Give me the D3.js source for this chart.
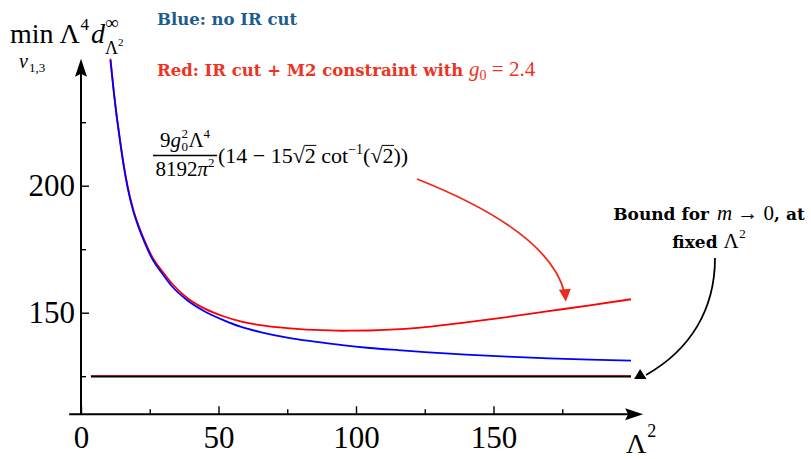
<!DOCTYPE html>
<html>
<head>
<meta charset="utf-8">
<script src="https://cdn.jsdelivr.net/npm/d3@7"></script>
<style>
  body { margin: 0; background: #fff; }
  svg { display: block; }
</style>
</head>
<body>
<div id="chart"></div>
<script>
// Values
var lambda2 = [10.7, 12, 13, 14, 15.5, 17, 19, 21, 23, 26, 29.5, 33, 38.5, 45, 52, 58, 66, 75, 85, 95, 105, 116, 125, 140, 155, 170, 185, 200];
var blueNoIR = [249.5, 236, 227, 219, 208, 199, 190, 183.5, 178, 171, 165.5, 160.5, 155, 150.5, 147, 144.5, 142.2, 140.2, 138.6, 137.2, 136.1, 135.2, 134.5, 133.5, 132.7, 132, 131.5, 131.1];
var redIRM2 = [250, 236.5, 227.5, 219.5, 208.5, 199.5, 190.6, 184.1, 178.7, 171.8, 166.4, 161.6, 155.9, 151.6, 148.5, 146.6, 145, 143.9, 143.2, 142.9, 143, 143.5, 144.3, 146.2, 148.3, 150.6, 152.9, 155.3];
var boundRange = [3.6, 200];
var boundValue = 125;

var xTicks = [0, 50, 100, 150];
var xMinorTicks = [25, 75, 125, 175];
var yTicks = [150, 200];
var yMinorTicks = [125, 175, 225];

var width = 811, height = 459;
var serif = "'Liberation Serif', 'Times New Roman', serif";
var slab = "'DejaVu Serif', serif";

var svg = d3.select("#chart").append("svg")
    .attr("width", width)
    .attr("height", height);

var x = d3.scaleLinear().domain([0, 200]).range([81, 631]);
var y = d3.scaleLinear().domain([110, 250]).range([414.3, 58.7]);

// Axes (ticks point inward like Mathematica)
var xAxis = d3.axisBottom(x).tickValues(xTicks).tickSize(-8).tickPadding(12);
var xMinor = d3.axisBottom(x).tickValues(xMinorTicks).tickSize(-5).tickFormat("");
var yAxis = d3.axisLeft(y).tickValues(yTicks).tickSize(-8).tickPadding(6);
var yMinor = d3.axisLeft(y).tickValues(yMinorTicks).tickSize(-5).tickFormat("");

function styleAxis(g) {
    g.select(".domain").remove();
    g.selectAll(".tick line").attr("stroke", "#000").attr("stroke-width", 1.4);
    g.selectAll(".tick text")
        .attr("font-family", serif)
        .attr("font-size", 31)
        .attr("fill", "#000");
}

svg.append("g").attr("transform", "translate(0," + y(110) + ")").call(xAxis).call(styleAxis);
svg.append("g").attr("transform", "translate(0," + y(110) + ")").call(xMinor).call(styleAxis);
svg.append("g").attr("transform", "translate(" + x(0) + ",0)").call(yAxis).call(styleAxis);
svg.append("g").attr("transform", "translate(" + x(0) + ",0)").call(yMinor).call(styleAxis);

// axis lines with arrow heads
var xEnd = x(204.4), yEnd = y(250);
svg.append("line")
    .attr("x1", x(-4.3)).attr("y1", y(110))
    .attr("x2", xEnd - 10).attr("y2", y(110))
    .attr("stroke", "#000").attr("stroke-width", 2);
svg.append("path")
    .attr("d", "M" + xEnd + "," + y(110) + "L" + (xEnd - 18) + "," + (y(110) - 6) +
        "L" + (xEnd - 15) + "," + y(110) + "L" + (xEnd - 18) + "," + (y(110) + 6) + "Z")
    .attr("fill", "#000");
svg.append("line")
    .attr("x1", x(0)).attr("y1", y(110))
    .attr("x2", x(0)).attr("y2", yEnd + 10)
    .attr("stroke", "#000").attr("stroke-width", 2);
svg.append("path")
    .attr("d", "M" + x(0) + "," + yEnd + "L" + (x(0) - 6) + "," + (yEnd + 18) +
        "L" + x(0) + "," + (yEnd + 15) + "L" + (x(0) + 6) + "," + (yEnd + 18) + "Z")
    .attr("fill", "#000");

// bound line (black with red on top)
svg.append("line")
    .attr("x1", x(boundRange[0])).attr("x2", x(boundRange[1]))
    .attr("y1", y(boundValue) + 0.6).attr("y2", y(boundValue) + 0.6)
    .attr("stroke", "#000").attr("stroke-width", 1.5);
svg.append("line")
    .attr("x1", x(boundRange[0])).attr("x2", x(boundRange[1]))
    .attr("y1", y(boundValue) - 0.7).attr("y2", y(boundValue) - 0.7)
    .attr("stroke", "#b51212").attr("stroke-width", 1.2);

// curves
var line = d3.line()
    .x(function(d) { return x(d[0]); })
    .y(function(d) { return y(d[1]); })
    .curve(d3.curveMonotoneX);

svg.append("path")
    .datum(d3.zip(lambda2, redIRM2))
    .attr("d", line)
    .attr("fill", "none")
    .attr("stroke", "#ff0000")
    .attr("stroke-width", 1.8);

svg.append("path")
    .datum(d3.zip(lambda2, blueNoIR))
    .attr("d", line)
    .attr("fill", "none")
    .attr("stroke", "#0000ff")
    .attr("stroke-width", 1.8);

/**
 * Writes a row of text pieces one after the other, returns the width
 */
function drawRun(parent, x0, y0, pieces, color) {
    var cx = x0;
    pieces.forEach(function(p) {
        var px = cx + (p.dx || 0);
        var t = parent.append("text")
            .attr("x", px)
            .attr("y", y0 + (p.dy || 0))
            .attr("font-family", p.font || serif)
            .attr("font-size", p.size)
            .attr("font-style", p.italic ? "italic" : "normal")
            .attr("font-weight", p.bold ? "bold" : "normal")
            .attr("fill", color)
            .style("white-space", "pre")
            .text(p.text);
        var w = t.node().getComputedTextLength();
        if (p.over) {
            parent.append("line")
                .attr("x1", px - 0.5).attr("x2", px + w + 0.5)
                .attr("y1", y0 - p.size * 0.8).attr("y2", y0 - p.size * 0.8)
                .attr("stroke", color).attr("stroke-width", 1);
        }
        if (!p.stay) cx = px + w;
    });
    return cx - x0;
}

// y axis label
drawRun(svg, 10, 43, [
    {text: "min", size: 28},
    {text: "\u039B", size: 28, dx: 6},
    {text: "4", size: 17, dy: -13, dx: 0.5},
    {text: "d", size: 28, italic: true, dx: 2},
    {text: "\u221E", size: 19, dy: -14, stay: true, dx: 0},
    {text: "\u039B", size: 18, dy: 11},
    {text: "2", size: 11, dy: 3}
], "#000");
drawRun(svg, 19, 68, [
    {text: "\u03BD", size: 20, italic: true},
    {text: "1,3", size: 13, dy: 4, dx: 1}
], "#000");

// x axis label
drawRun(svg, 626, 453, [
    {text: "\u039B", size: 28},
    {text: "2", size: 18, dy: -16, dx: 1}
], "#000");

// legend texts
drawRun(svg, 157, 25, [
    {text: "Blue: no IR cut", size: 16.5, bold: true, font: slab}
], "#1c5d8f");
drawRun(svg, 157, 76, [
    {text: "Red: IR cut + M2 constraint with ", size: 16.5, bold: true, font: slab},
    {text: "g", size: 21, italic: true},
    {text: "0", size: 14, dy: 4},
    {text: " = 2.4", size: 21}
], "#ee3322");

// formula annotation
var frac = svg.append("g");
var numW = drawRun(frac, 0, 146.5, [
    {text: "9", size: 21},
    {text: "g", size: 21, italic: true},
    {text: "2", size: 13, dy: -9, stay: true, dx: 0.5},
    {text: "0", size: 13, dy: 4, dx: 0.5},
    {text: "\u039B", size: 21, dx: 0.5},
    {text: "4", size: 13, dy: -9}
], "#000");
var den = svg.append("g");
var denW = drawRun(den, 0, 176, [
    {text: "8192", size: 21},
    {text: "\u03C0", size: 21, italic: true},
    {text: "2", size: 13, dy: -9}
], "#000");
var fracCenter = 185;
frac.attr("transform", "translate(" + (fracCenter - numW / 2) + ",0)");
den.attr("transform", "translate(" + (fracCenter - denW / 2) + ",0)");
svg.append("line")
    .attr("x1", 153).attr("x2", 217)
    .attr("y1", 155.5).attr("y2", 155.5)
    .attr("stroke", "#000").attr("stroke-width", 1.4);
drawRun(svg, 218, 163, [
    {text: "(14 \u2212 15", size: 22},
    {text: "\u221A", size: 22},
    {text: "2", size: 22, over: true},
    {text: " cot", size: 22},
    {text: "\u22121", size: 14, dy: -9},
    {text: "(", size: 22},
    {text: "\u221A", size: 22},
    {text: "2", size: 22, over: true},
    {text: "))", size: 22}
], "#000");

// red arrow from formula down to the red curve
var redTip = [x(176.3), y(154.3)];
svg.append("path")
    .attr("d", "M417,179Q548,231," + (redTip[0] - 1.5) + "," + (redTip[1] - 10))
    .attr("fill", "none")
    .attr("stroke", "#ee2a1a")
    .attr("stroke-width", 1.8);
svg.append("path")
    .attr("d", "M" + redTip[0] + "," + redTip[1] +
        "L" + (redTip[0] - 7) + "," + (redTip[1] - 12) +
        "L" + (redTip[0] + 5) + "," + (redTip[1] - 13) + "Z")
    .attr("fill", "#ee2a1a");

// bound annotation
var b1 = svg.append("g");
var b1W = drawRun(b1, 0, 220, [
    {text: "Bound for ", size: 17, bold: true, font: slab},
    {text: "m", size: 21, italic: true, dx: 2},
    {text: " \u2192 0", size: 21},
    {text: ", at", size: 17, bold: true, font: slab}
], "#000");
b1.attr("transform", "translate(" + Math.min(709 - b1W / 2, 806 - b1W) + ",0)");
var b2 = svg.append("g");
var b2W = drawRun(b2, 0, 248, [
    {text: "fixed ", size: 17, bold: true, font: slab},
    {text: "\u039B", size: 21},
    {text: "2", size: 13, dy: -10, dx: 0.5}
], "#000");
b2.attr("transform", "translate(" + (709 - b2W / 2) + ",0)");

var tri = [x(203.3), y(125.9)];
svg.append("path")
    .attr("d", "M715,258C715,310,690,350," + (tri[0] + 6) + "," + (tri[1] + 1))
    .attr("fill", "none")
    .attr("stroke", "#000")
    .attr("stroke-width", 1.8);
svg.append("path")
    .attr("d", "M" + tri[0] + "," + (tri[1] - 5) +
        "L" + (tri[0] - 6) + "," + (tri[1] + 5) +
        "L" + (tri[0] + 6.5) + "," + (tri[1] + 5) + "Z")
    .attr("fill", "#000");
</script>
</body>
</html>
